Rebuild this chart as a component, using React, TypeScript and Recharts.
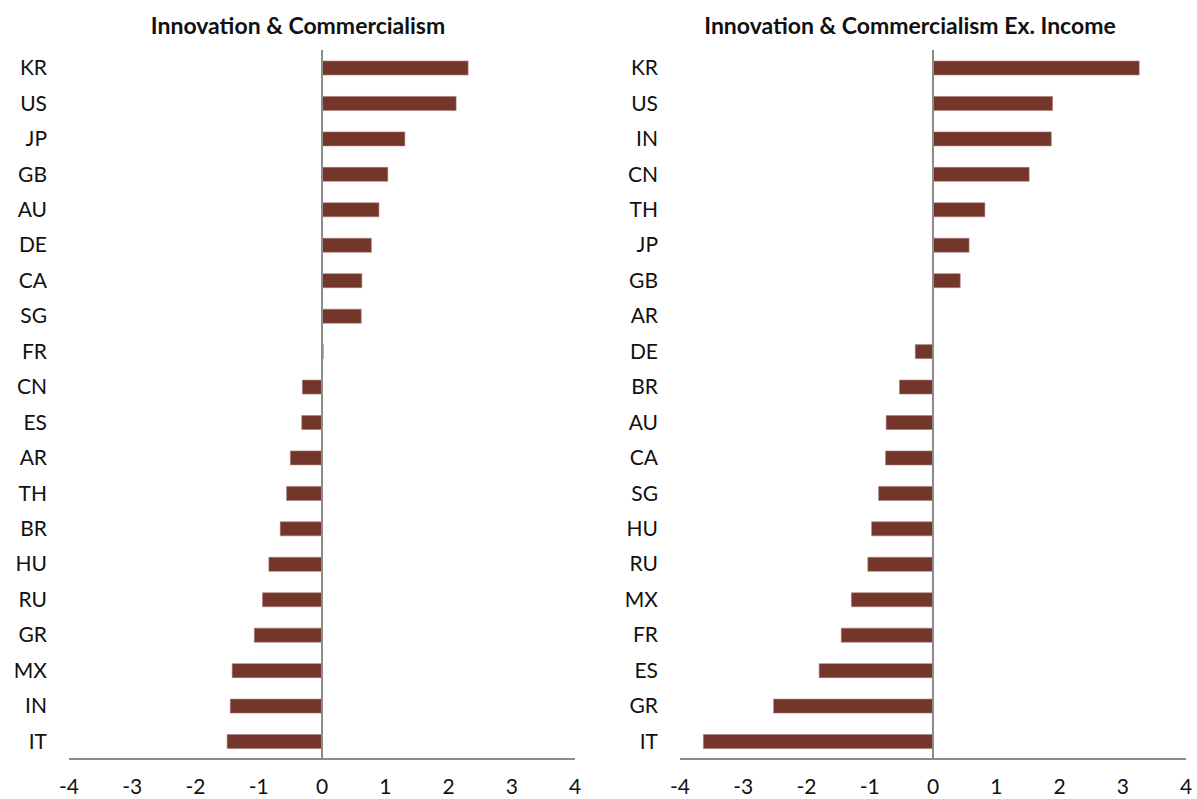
import React from "react";
import {
  BarChart, Bar, XAxis, YAxis, ReferenceLine,
} from "recharts";

const leftCategories = [
  "KR", "US", "JP", "GB", "AU", "DE", "CA", "SG", "FR", "CN",
  "ES", "AR", "TH", "BR", "HU", "RU", "GR", "MX", "IN", "IT",
];
const leftValues = [
  2.31, 2.12, 1.31, 1.04, 0.9, 0.78, 0.63, 0.62, 0.02, -0.31,
  -0.32, -0.5, -0.56, -0.66, -0.84, -0.94, -1.07, -1.42, -1.45, -1.5,
];

const rightCategories = [
  "KR", "US", "IN", "CN", "TH", "JP", "GB", "AR", "DE", "BR",
  "AU", "CA", "SG", "HU", "RU", "MX", "FR", "ES", "GR", "IT",
];
const rightValues = [
  3.26, 1.89, 1.87, 1.52, 0.82, 0.57, 0.43, 0, -0.28, -0.53,
  -0.74, -0.75, -0.86, -0.97, -1.03, -1.29, -1.45, -1.8, -2.52, -3.63,
];

const xTicks = [-4, -3, -2, -1, 0, 1, 2, 3, 4];

const BAR = "#74352a";
const AXIS = "#8c8c8c";
const FONT = "Lato, 'Open Sans', sans-serif";

const toRows = (cats: string[], vals: number[]) =>
  cats.map((name, i) => ({ name, value: vals[i] }));

interface PanelProps {
  title: string;
  rows: { name: string; value: number }[];
  left: number;
  width: number;
  marginRight: number;
  titleCenter: number;
}

function Panel({ title, rows, left, width, marginRight, titleCenter }: PanelProps) {
  return (
    <div style={{ position: "absolute", left, top: 0, width, height: 799 }}>
      <div
        style={{
          position: "absolute",
          left: titleCenter - left - 300,
          width: 600,
          top: 11,
          textAlign: "center",
          fontFamily: FONT,
          fontWeight: 700,
          fontSize: 23,
          lineHeight: "28px",
          color: "#111",
          whiteSpace: "nowrap",
        }}
      >
        {title}
      </div>
      <BarChart
        width={width}
        height={799}
        data={rows}
        layout="vertical"
        margin={{ top: 50, right: marginRight, bottom: 0, left: 9 }}
      >
        <XAxis
          type="number"
          domain={[-4, 4]}
          ticks={xTicks}
          interval={0}
          height={40}
          tickLine={false}
          tickSize={0}
          tickMargin={20}
          axisLine={{ stroke: AXIS, strokeWidth: 2 }}
          tick={{ fill: "#111", fontSize: 21, fontFamily: FONT }}
        />
        <YAxis
          type="category"
          dataKey="name"
          width={60}
          axisLine={false}
          tickLine={false}
          tickSize={0}
          tickMargin={22}
          interval={0}
          tick={{ fill: "#111", fontSize: 21, fontFamily: FONT }}
        />
        <Bar
          dataKey="value"
          fill={BAR}
          stroke="#a57a73"
          strokeWidth={0.6}
          barSize={14}
          isAnimationActive={false}
        />
        <ReferenceLine x={0} stroke={AXIS} strokeWidth={2} />
      </BarChart>
    </div>
  );
}

export default function App() {
  return (
    <div style={{ position: "absolute", left: 0, top: 0, width: 1197, height: 799, background: "#fff" }}>
      <Panel
        title="Innovation & Commercialism"
        rows={toRows(leftCategories, leftValues)}
        left={0}
        width={600}
        marginRight={25}
        titleCenter={298}
      />
      <Panel
        title="Innovation & Commercialism Ex. Income"
        rows={toRows(rightCategories, rightValues)}
        left={611}
        width={586}
        marginRight={11}
        titleCenter={910}
      />
    </div>
  );
}
